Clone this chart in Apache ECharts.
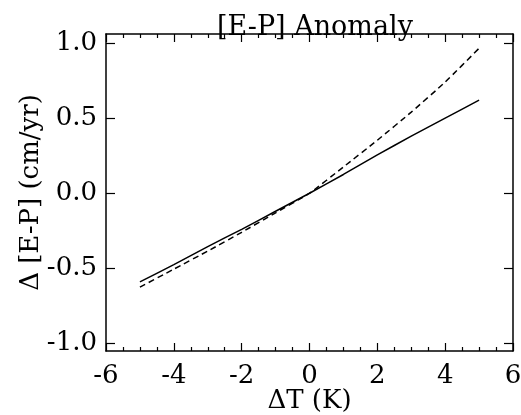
<!DOCTYPE html>
<html>
<head>
<meta charset="utf-8">
<script src="https://cdn.jsdelivr.net/npm/echarts@6/dist/echarts.min.js"></script>
<style>
html,body{margin:0;padding:0;background:#fff;}
#chart{width:521px;height:415px;}
</style>
</head>
<body>
<div id="chart"></div>
<script>
// Data
var deltaT = [-5, -4, -3, -2, -1, 0, 1, 2, 3, 4, 5];
var solidEP = [-0.59, -0.475, -0.355, -0.24, -0.12, 0.0, 0.125, 0.255, 0.38, 0.50, 0.62];
var dashedEP = [-0.625, -0.505, -0.385, -0.26, -0.13, 0.0, 0.175, 0.353, 0.54, 0.74, 0.965];
var yTickValues = [-1.0, -0.5, 0.0, 0.5, 1.0];
var xTickLabels = [-6, -4, -2, 0, 2, 4, 6];

function pairs(xs, ys) {
  return xs.map(function (x, i) { return [x, ys[i]]; });
}

var FONT = 'DejaVu Serif';
var chart = echarts.init(document.getElementById('chart'), null, {renderer: 'canvas'});
var axisLine = {show: true, onZero: false, lineStyle: {color: '#000', width: 1.5}};
var option = {
  backgroundColor: '#fff',
  animation: false,
  title: {
    text: '[E-P] Anomaly',
    left: 310,
    textAlign: 'center',
    top: 9,
    textStyle: {fontFamily: FONT, fontSize: 27, fontWeight: 'normal', color: '#000'}
  },
  grid: {left: 106, right: 8, top: 34, bottom: 64, containLabel: false, outerBoundsMode: 'none'},
  xAxis: [{
    type: 'value', position: 'bottom', min: -6, max: 6, interval: 2,
    axisLine: axisLine,
    axisTick: {show: true, inside: true, length: 8, lineStyle: {color: '#000', width: 1.2}},
    minorTick: {show: true, splitNumber: 4, length: 4, lineStyle: {color: '#000', width: 1.2}},
    splitLine: {show: false},
    axisLabel: {
      fontFamily: FONT, fontSize: 26, color: '#000', margin: 12,
      customValues: xTickLabels,
      formatter: function (v) { return String(v); }
    },
    name: 'ΔT (K)', nameLocation: 'middle', nameGap: 37, nameMoveOverlap: false,
    nameTextStyle: {fontFamily: FONT, fontSize: 26, color: '#000'}
  }, {
    type: 'value', position: 'top', min: -6, max: 6, interval: 2,
    axisLine: axisLine,
    axisTick: {show: true, inside: true, length: 8, lineStyle: {color: '#000', width: 1.2}},
    minorTick: {show: true, splitNumber: 4, length: 4, lineStyle: {color: '#000', width: 1.2}},
    splitLine: {show: false},
    axisLabel: {show: false}
  }],
  yAxis: [{
    type: 'value', position: 'left', min: -1.05, max: 1.06,
    axisLine: axisLine,
    axisTick: {show: true, inside: true, length: 9, customValues: yTickValues, lineStyle: {color: '#000', width: 1.2}},
    splitLine: {show: false},
    axisLabel: {
      fontFamily: FONT, fontSize: 26, color: '#000', margin: 9,
      customValues: yTickValues,
      formatter: function (v) { return v.toFixed(1); }
    },
    name: 'Δ [E-P] (cm/yr)', nameLocation: 'middle', nameGap: 62, nameRotate: 90, nameMoveOverlap: false,
    nameTextStyle: {fontFamily: FONT, fontSize: 26, color: '#000'}
  }, {
    type: 'value', position: 'right', min: -1.05, max: 1.06,
    axisLine: axisLine,
    axisTick: {show: true, inside: true, length: 9, customValues: yTickValues, lineStyle: {color: '#000', width: 1.2}},
    splitLine: {show: false},
    axisLabel: {show: false}
  }],
  series: [{
    type: 'line', xAxisIndex: 0, yAxisIndex: 0,
    data: pairs(deltaT, solidEP),
    showSymbol: false, smooth: 0.15,
    lineStyle: {color: '#000', width: 1.5, type: 'solid'}
  }, {
    type: 'line', xAxisIndex: 0, yAxisIndex: 0,
    data: pairs(deltaT, dashedEP),
    showSymbol: false, smooth: 0.15,
    lineStyle: {color: '#000', width: 1.5, type: [6, 4]}
  }]
};
chart.setOption(option);
</script>
</body>
</html>
